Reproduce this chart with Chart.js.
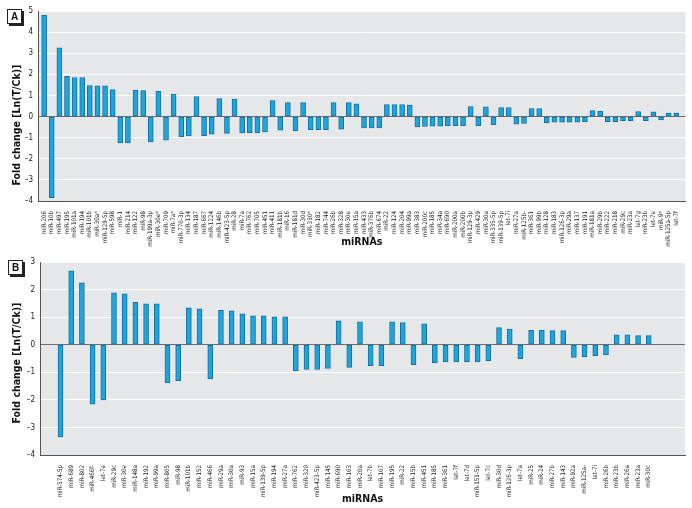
<!DOCTYPE html>
<html>
<head>
<meta charset="utf-8">
<script src="https://cdn.jsdelivr.net/npm/chart.js@4.4.1/dist/chart.umd.min.js"></script>
<style>
  body { margin: 0; background: #fff; width: 692px; height: 508px; position: relative; overflow: hidden; }
  .panel { position: absolute; left: 0; width: 692px; }
  .tag { position: absolute; width: 13px; height: 13px; border: 1px solid #222; box-shadow: 2px 2px 0 #222;
         font: bold 10px 'Liberation Sans', sans-serif; text-align: center; line-height: 13px; background: #fff; color: #111; }
  .ytitle { position: absolute; width: 160px; margin-left: -80px; text-align: center; transform: rotate(-90deg);
            font: bold 10.5px 'Liberation Sans Narrow','DejaVu Sans Condensed',sans-serif; color: #111; line-height: 12px; }
</style>
</head>
<body>
<div class="panel" style="top:0;height:250px"><canvas id="chartA"></canvas></div>
<div class="panel" style="top:250px;height:258px"><canvas id="chartB"></canvas></div>
<div class="tag" style="left:7px;top:9px">A</div>
<div class="tag" style="left:8px;top:260px">B</div>
<div class="ytitle" style="left:16px;top:119px">Fold change [Ln(T/Ck)]</div>
<div class="ytitle" style="left:16px;top:357px">Fold change [Ln(T/Ck)]</div>
<script>
// panel A
const mirnasA = ['miR-206','miR-10b','miR-497','miR-195','miR-101a','miR-194','miR-101b','miR-30a*','miR-129-5p','miR-598',
  'miR-1','miR-214','miR-122','miR-98','miR-199a-3p','miR-30e*','miR-709','miR-7a*','miR-770-3p','miR-134',
  'miR-187','miR-667','miR-1224','miR-146b','miR-423-5p','miR-28','miR-7a','miR-762','miR-705','miR-451',
  'miR-411','miR-181b','miR-16','miR-181d','miR-30d','miR-330*','miR-182','miR-744','miR-26b','miR-328',
  'miR-30e','miR-15a','miR-433','miR-376b','miR-674','miR-22','miR-124','miR-204','miR-99a','miR-383',
  'miR-200c','miR-185','miR-34a','miR-690','miR-200a','miR-200b','miR-129-3p','miR-429','miR-30a','miR-335-5p',
  'miR-139-5p','let-7i','miR-27a','miR-125b-','miR-361','miR-99b','miR-128','miR-183','miR-126-3p','miR-29a',
  'miR-137','miR-191','miR-181a','miR-29b','miR-222','miR-218','miR-29c','miR-23a','let-7g','miR-23b',
  'let-7e','miR-9*','miR-125a-5p','let-7f']
const foldA = [4.8,-3.84,3.25,1.9,1.85,1.85,1.47,1.45,1.45,1.28,
  -1.25,-1.25,1.26,1.23,-1.2,1.2,-1.12,1.07,-0.96,-0.92,
  0.95,-0.9,-0.84,0.85,-0.8,0.83,-0.77,-0.76,-0.76,-0.73,
  0.76,-0.65,0.66,-0.68,0.66,-0.62,-0.62,-0.62,0.66,-0.6,
  0.66,0.6,-0.54,-0.54,-0.54,0.57,0.57,0.57,0.54,-0.49,
  -0.47,-0.46,-0.46,-0.43,-0.43,-0.43,0.47,-0.43,0.46,-0.38,
  0.43,0.43,-0.36,-0.33,0.38,0.38,-0.3,-0.27,-0.27,-0.27,
  -0.27,-0.24,0.28,0.25,-0.24,-0.24,-0.2,-0.19,0.24,-0.19,
  0.22,-0.16,0.16,0.16]

// panel B
const mirnasB = ['miR-574-5p','miR-689','miR-802','miR-466f-','let-7e','miR-29c','miR-30e','miR-148a','miR-192','miR-99a',
  'miR-805','miR-98','miR-101b','miR-152','miR-466','miR-29a','miR-30a','miR-93','miR-15a','miR-139-5p',
  'miR-194','miR-27a','miR-762','miR-320','miR-423-5p','miR-145','miR-690','miR-103','miR-20a','let-7b',
  'miR-107','miR-195','miR-22','miR-15b','miR-451','miR-185','miR-361','let-7f','let-7d','miR-151-5p',
  'let-7c','miR-30d','miR-126-3p','let-7a','miR-25','miR-24','miR-27b','miR-143','miR-92a','miR-125a-',
  'let-7i','miR-26b','miR-23b','miR-26a','miR-23a','miR-30c']
const foldB = [-3.34,2.68,2.24,-2.16,-2.0,1.88,1.85,1.54,1.48,1.48,
  -1.39,-1.3,1.34,1.3,-1.24,1.25,1.23,1.12,1.05,1.05,
  1.01,1.01,-0.95,-0.9,-0.9,-0.86,0.87,-0.82,0.83,-0.76,
  -0.76,0.83,0.8,-0.72,0.76,-0.65,-0.62,-0.62,-0.62,-0.62,
  -0.58,0.62,0.57,-0.51,0.52,0.52,0.51,0.51,-0.46,-0.43,
  -0.4,-0.36,0.36,0.36,0.33,0.33]

const narrow = "'Liberation Sans Narrow','DejaVu Sans Condensed',sans-serif"

const plotBg = {
  id: 'plotBg',
  beforeDraw(chart){
    const {ctx, chartArea:a} = chart
    ctx.save()
    ctx.fillStyle = '#e6e7e8'
    ctx.fillRect(a.left, a.top, a.right-a.left, a.bottom-a.top)
    ctx.restore()
  }
}

function makeChart(id, names, values, o){
  new Chart(document.getElementById(id), {
    type: 'bar',
    data: {
      datasets: [{
        data: names.map((n,i)=>({x:i, y:values[i]})),
        backgroundColor: '#1ea5de',
        borderColor: '#14729f',
        borderWidth: 1,
        borderSkipped: false,
        barThickness: o.bar
      }]
    },
    options: {
      responsive: true,
      maintainAspectRatio: false,
      animation: false,
      layout: {padding: {top: o.top, right: o.right, left: 0, bottom: 0}},
      plugins: {legend: {display: false}, tooltip: {enabled: false}},
      scales: {
        x: {
          type: 'linear',
          min: o.xMin, max: o.xMax,
          afterBuildTicks: s => { s.ticks = names.map((n,i)=>({value:i})) },
          afterFit: s => { s.height = o.xHeight },
          grid: {display: false},
          border: {display: true, color: '#555', width: 1},
          ticks: {
            autoSkip: false, minRotation: 90, maxRotation: 90, padding: 2,
            color: '#222', font: {family: narrow, size: 6.2},
            callback: v => names[v]
          },
          title: {display: true, text: 'miRNAs', color: '#111',
            font: {family: narrow, size: 10.5, weight: 'bold'}, padding: {top: 0, bottom: o.titlePad}}
        },
        y: {
          min: o.yMin, max: o.yMax,
          afterFit: s => { s.width = o.yWidth },
          grid: {color: c => c.tick.value === 0 ? '#6d6d6d' : '#ffffff', lineWidth: 1, drawTicks: false},
          border: {display: true, color: '#555', width: 1},
          ticks: {stepSize: 1, padding: 5, color: '#222', font: {family: narrow, size: 8},
            callback: v => v < 0 ? '\u2013' + Math.abs(v) : String(v)}
        }
      }
    },
    plugins: [plotBg]
  })
}

makeChart('chartA', mirnasA, foldA, {yMin:-4, yMax:5, xMin:-0.3, xMax:83.7, top:11, right:6.5, xHeight:49, yWidth:38, titlePad:1, bar:5})
makeChart('chartB', mirnasB, foldB, {yMin:-4, yMax:3, xMin:-1.38, xMax:57.85, top:12, right:7, xHeight:53, yWidth:40, titlePad:2, bar:5})
</script>
</body>
</html>
